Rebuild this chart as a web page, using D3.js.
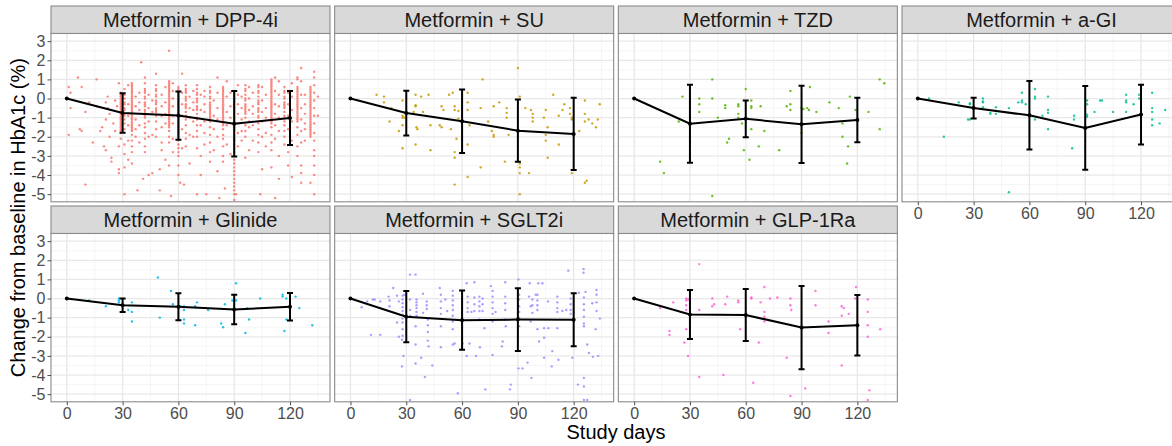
<!DOCTYPE html>
<html>
<head>
<meta charset="utf-8">
<script src="https://cdn.jsdelivr.net/npm/d3@7"></script>
<style>
  html, body { margin: 0; padding: 0; background: #fff; }
  svg { display: block; font-family: "Liberation Sans", Arial, Helvetica, sans-serif; }
</style>
</head>
<body>
<svg id="chart" width="1172" height="446"></svg>
<script>
// Treatment regimens, one facet each
const regimens = [
  "Metformin + DPP-4i", "Metformin + SU", "Metformin + TZD", "Metformin + a-GI",
  "Metformin + Glinide", "Metformin + SGLT2i", "Metformin + GLP-1Ra"
];
const visitDays = [0, 30, 60, 90, 120];
const dayTicks = [0, 30, 60, 90, 120];
const changeTicks = [-5, -4, -3, -2, -1, 0, 1, 2, 3];

// Mean change in HbA1c (%) at each visit, and its SD
const meanDPP4 = [0, -0.76, -0.89, -1.32, -1.02];
const sdDPP4   = [0, 1.03, 1.26, 1.71, 1.41];
const meanSU   = [0, -0.76, -1.19, -1.68, -1.85];
const sdSU     = [0, 1.17, 1.66, 1.63, 1.89];
const meanTZD  = [0, -1.32, -1.06, -1.35, -1.12];
const sdTZD    = [0, 2.04, 0.96, 2.02, 1.16];
const meanAGI  = [0, -0.50, -0.88, -1.54, -0.84];
const sdAGI    = [0, 0.54, 1.79, 2.19, 1.56];
const meanGlinide = [0, -0.35, -0.43, -0.57, -0.43];
const sdGlinide   = [0, 0.35, 0.70, 0.77, 0.72];
const meanSGLT2 = [0, -0.95, -1.13, -1.10, -1.11];
const sdSGLT2   = [0, 1.34, 1.55, 1.64, 1.38];
const meanGLP1  = [0, -0.83, -0.86, -1.52, -1.40];
const sdGLP1    = [0, 1.28, 1.36, 2.18, 1.58];

// Individual observations: [study day, change] or [study day, [changes...]]
const obsDPP4 = [
  [1,[0.6,-1.9]],[2,[0.3,-0.5]],[6,1.1],[7,-1.6],[8,[0.6,-1.7]],[10,[-0.7,-4.5]],[12,-0.2],[14,-2.3],
  [16,[1.0,-0.4]],[18,-1.7],[19,-1.5],[20,-2.5],[21,[-1.1,-2.7,-0.2]],[22,[-0.5,0.1]],[23,[-0.8,-2.0]],
  [24,[-3.1,-3.3]],[25,-1.3],[26,[-0.1,-1.7]],[27,-0.4],[28,[0.8,-2.5,-3.7,-3.9]],
  [29,[0.3,0.2,0.1,0,-0.1,-0.2,-0.3,-0.4,-0.5,-0.6,-0.7,-0.8,-0.9,-1.0,-1.1,-1.2,-1.3,-1.4,-1.5,-1.6,-1.7,-1.8,-2.1]],
  [31,[0.5,0.2,0,-0.2,-0.3,-0.5,-0.6,-0.8,-0.9,-1.1,-1.3,-1.6,-2.4,-2.9,-3.6,-5.0]],
  [33,[0.7,-0.3,-0.9,-1.4,-2.2,-3.2]],
  [35,[0.8,0.7,0.6,0.5,0.4,0.3,0.2,0.1,0,-0.1,-0.2,-0.3,-0.4,-0.5,-0.6,-0.7,-0.8,-0.9,-1.0,-1.1,-1.2,-1.3,-1.4,-1.5,-1.6,-1.7,-1.9,-2.2,-2.5,-2.8,-3.4]],
  [37,[0.1,-0.4,-1.1,-1.6,-2.0]],[38,-4.8],[39,[0.3,-0.2,-0.6,-1.4,-2.3]],[40,1.9],[41,-4.2],
  [42,[1.1,0.8,0.5,0.4,0.3,0.1,0,-0.2,-0.3,-0.4,-0.6,-0.7,-0.9,-1.0,-1.3,-1.5,-1.8,-2.1,-2.5,-2.8]],
  [44,[0.2,-0.5,-1.2,-2.0,-4.0]],[46,[-0.1,-0.7,-1.9,-3.9]],
  [48,[1.3,0.7,0.5,0.4,0.2,0.1,-0.1,-0.2,-0.3,-0.5,-0.6,-0.7,-0.9,-1.2,-1.6,-2.0]],
  [50,[-3.7,-4.8]],[51,[0.2,-0.4,-0.9,-1.5,-2.3,-2.7]],[53,[0.6,-0.2,-0.8,-1.3,-3.2]],
  [55,[2.5,0.9,0.8,0.7,0.6,0.5,0.4,0.3,0.2,0.1,0,-0.1,-0.2,-0.3,-0.4,-0.5,-0.6,-0.7,-0.8,-0.9,-1.0,-1.1,-1.2,-1.3,-1.4,-1.5,-1.7,-2.0,-2.3,-3.5]],
  [56,-5.1],[57,[0.8,0.4,0,-0.4,-0.9,-1.3,-2.1,-2.8]],
  [60,[0.6,0.5,0.4,0.3,0.2,0.1,0,-0.1,-0.2,-0.3,-0.4,-0.5,-0.6,-0.7,-0.8,-0.9,-1.0,-1.1,-1.2,-1.3,-1.4,-1.5,-1.6,-1.7,-1.8,-1.9,-2.0,-2.2,-2.4,-2.6,-2.8,-3.0,-3.5,-4.0]],
  [61,-4.4],[62,[1.3,0.3,-0.3,-0.9,-1.6,-2.6]],[63,-4.5],
  [64,[0.7,0.5,0.4,0.3,0.1,0,-0.1,-0.3,-0.4,-0.5,-0.7,-0.9,-1.1,-1.4,-1.8,-2.1,-2.5]],
  [66,[0.1,-0.5,-1.0,-1.9,-3.4]],[68,[0.4,-0.2,-0.6,-1.2,-2.0]],
  [70,[0.7,0.5,0.3,0.2,0,-0.1,-0.2,-0.4,-0.5,-0.6,-0.8,-1.0,-1.1,-1.4,-1.7,-2.0,-2.6,-5.0]],
  [72,[0.2,-0.6,-1.4,-3.0,-4.0]],[74,[0.4,0.1,-0.3,-0.7,-1.2,-1.8,-2.4]],[75,-5.0],
  [77,[0.6,0.4,0.3,0.1,0,-0.2,-0.3,-0.4,-0.5,-0.6,-0.7,-0.8,-0.9,-1.0,-1.1,-1.2,-1.5,-1.9,-2.3,-2.8,-3.3]],
  [79,[-0.1,-0.9,-1.6,-2.7]],[81,[1.1,0.3,-0.5,-1.1,-2.0,-3.8]],[82,-5.2],
  [84,[0.6,0.5,0.4,0.3,0.2,0.1,0,-0.1,-0.2,-0.3,-0.4,-0.5,-0.6,-0.7,-0.8,-0.9,-1.0,-1.1,-1.2,-1.3,-1.4,-1.6,-1.9,-2.1,-2.5,-3.0,-3.3]],
  [85,-4.7],[86,[0.9,0.1,-0.7,-1.4,-2.4]],[88,[0.3,-0.4,-1.0,-2.9]],
  [90,[0.4,0.3,0.2,0.1,0,-0.1,-0.2,-0.3,-0.4,-0.5,-0.6,-0.7,-0.8,-0.9,-1.0,-1.1,-1.2,-1.3,-1.4,-1.5,-1.6,-1.7,-1.9,-2.1,-2.2,-2.4,-2.6,-2.8,-3.0,-3.2,-3.4,-3.6,-3.8,-4.0,-4.2,-4.4,-4.6,-4.8,-5.0,-5.3]],
  [91,-5.0],[92,[0.7,0.2,-0.3,-0.8,-1.3,-1.8,-2.5]],[94,[0.1,-0.5,-1.1,-1.7,-2.2]],
  [96,[0.7,0.5,0.4,0.2,0,-0.1,-0.3,-0.4,-0.5,-0.6,-0.7,-0.8,-1.0,-1.4,-1.7,-2.0,-3.1]],
  [98,[0.6,0,-0.6,-1.2,-1.5,-2.7]],[100,[0.3,-0.4,-0.8,-1.4,-2.2]],
  [103,[0.7,0.6,0.4,0.3,0.1,-0.1,-0.2,-0.3,-0.5,-0.6,-0.7,-0.9,-1.0,-1.3,-1.6,-1.9,-2.3,-2.8]],
  [104,-5.0],[105,[0.6,-0.1,-0.7,-1.2,-2.0,-3.7]],[107,[0.2,-0.5,-1.0,-1.8,-2.5]],
  [110,[1.0,0.9,0.8,0.7,0.6,0.5,0.4,0.3,0.2,0.1,0,-0.1,-0.2,-0.3,-0.4,-0.5,-0.6,-0.7,-0.8,-0.9,-1.0,-1.1,-1.2,-1.3,-1.5,-1.9,-2.3,-2.7,-3.6]],
  [112,[1.1,0.4,-0.3,-0.8,-1.4,-2.1,-5.2]],[114,[0.9,0.2,-0.4,-1.0,-1.7,-3.0,-4.2]],
  [117,[0.6,0.4,0.3,0.1,0,-0.2,-0.3,-0.4,-0.5,-0.7,-0.9,-1.0,-1.2,-1.4,-1.7,-2.0,-2.4]],
  [119,[0.3,-0.3,-0.9,-1.6,-2.8,-3.5]],[121,[0.8,0.1,-0.6,-1.2,-2.2,-4.1]],
  [124,[1.1,1.0,0.6,0.5,0.4,0.3,0.2,0.1,0,-0.1,-0.2,-0.3,-0.4,-0.5,-0.6,-0.7,-0.8,-0.9,-1.0,-1.1,-1.2,-1.5,-1.9,-2.5,-3.0]],
  [126,[1.6,0.9,0.2,-0.5,-1.1,-1.7,-2.3,-3.5,-3.9,-4.4]],[128,[0.2,-0.3,-0.8,-1.3,-1.6,-2.2]],
  [131,[0.6,0.5,0.4,0.3,0.2,0.1,0,-0.1,-0.2,-0.3,-0.4,-0.5,-0.6,-0.7,-0.8,-0.9,-1.0,-1.1,-1.2,-1.3,-1.4,-1.5,-1.6,-1.7,-1.8,-1.9,-2.0,-4.4]],
  [133,[1.4,1.1,0.7,0.3,-0.1,-0.5,-0.9,-1.3,-1.8,-2.2,-2.7,-3.0,-3.5,-4.0,-5.0]],
  [135,[0.1,-0.9]]
];
const obsSU = [
  [14,0.2],[18,0.1],[18,-0.2],[22,-0.5],[21,-1.2],[26,-1.7],[28,-0.1],[28,-0.9],[28,-1.0],[29,-1.0],
  [28,-1.4],[28,-2.6],[34,-0.7],[35,-0.35],[35,-0.4],[35,0.2],[38,0.1],[42,0.2],[35.5,-1.5],[36,-1.6],
  [35,-2.4],[39,-0.7],[43,-1.4],[43,-2.7],[48,-1.4],[49,-0.4],[49,-1.5],[50,-0.6],[53,0.2],[55,0.3],
  [54,-1.6],[56,-0.4],[56,-0.6],[57,-2.1],[56,-2.8],[56,-3.1],[56,-4.5],[58,-1.05],[58,-0.65],[63,0.3],
  [63,-0.2],[63,-0.6],[63,-2.4],[64,-1.4],[63,-4.1],[70,-0.5],[71,1.0],[70,-3.6],[74,-1.2],[77,-0.4],
  [76,-1.7],[77,-1.9],[77,-2.0],[80,-0.2],[83,-3.3],[84,-0.5],[84,-0.75],[84,-1.0],[85,-1.9],[90,1.6],
  [91,0.1],[91,-3.4],[91,-3.6],[91,-3.9],[91,-5.0],[94,-0.5],[96,-3.9],[97,-0.6],[98,-0.8],[98,-1.0],
  [98,-1.2],[104,-1.0],[105,-0.6],[105,-1.9],[105,-2.2],[106,-1.5],[106,-3.1],[109,0.2],[112,-0.9],
  [112,-2.4],[114,-0.6],[115,-0.3],[118,-0.8],[118,-0.5],[119,-1.0],[119,-1.1],[119,-3.9],[126,-0.1],
  [126,-0.8],[126,-1.2],[128,-1.1],[130,-1.3],[132,-1.5],[133,-1.1],[134,-0.3],[123,-1.7],[126,-4.4],[127,-4.3]
];
const obsTZD = [
  [26,0.1],[24,-1.2],[14,-3.3],[16,-3.9],[35,0],[35,-0.3],[35,-0.7],[42,1.0],[42,0],[42,-5.1],[45,-1.0],
  [49,-0.35],[49,-0.5],[51,-2.1],[50,-2.3],[56,-0.3],[56,-0.4],[56,-0.8],[56,-1.0],[58,-1.3],[60,0.5],
  [59,-2.7],[62,-3.2],[63,-0.1],[63,-0.4],[63,-0.5],[63,-1.6],[68,-0.4],[67,-2.5],[70,-1.7],[78,-2.7],
  [82,-0.4],[84,0.4],[84,-0.3],[84,-0.6],[90,-0.5],[91,-0.55],[90,-1.8],[93,-0.5],[94.5,0.6],[94,-0.6],
  [98,-0.7],[105,-0.2],[110,-0.5],[112,-1.3],[112,-2.0],[116,0.1],[115,-2.5],[114.5,-3.4],[119,-0.6],
  [126,-0.7],[132,1.0],[134.5,0.8],[132,-1.6]
];
const obsAGI = [
  [6,0],[14,-2.0],[22,-0.2],[28,-0.25],[28,-0.3],[27,-1.1],[28,-1.1],[35,0],[35,-0.15],[35,-0.2],
  [35,-0.45],[39,-0.75],[39,-0.8],[42,-0.45],[42,-0.8],[49,-0.5],[49,-4.9],[54,-0.2],[56,0.3],[56,-0.1],
  [56,-0.2],[58,-0.3],[63,0.5],[63,0.1],[63,0],[63,-1.1],[67,-0.9],[70,0.1],[70,-0.6],[70,-0.75],
  [70,-1.6],[83,-2.6],[84,-0.9],[84,-1.1],[91,-0.1],[91,-0.3],[91,-0.85],[91,-0.95],[95,-0.7],[98,-0.1],
  [99,-0.1],[105,-0.7],[112,0.2],[112,-0.1],[112,-0.2],[112,-0.7],[116,-0.3],[119,0.2],[119,0],[126,0.3],
  [126,-0.5],[126,-0.7],[126,-1.1],[126,-1.4],[130,-1.3],[133,-0.6]
];
const obsGlinide = [
  [12,-0.1],[21,-0.4],[28,0],[28,-0.1],[28,-0.2],[33,-0.6],[35,-0.2],[35,-0.7],[35,-1.2],[49,1.1],
  [50,-1.0],[56,0.4],[57,-0.3],[61,-0.4],[63,-0.4],[63,-0.6],[63,-1.1],[63,-1.3],[69,-0.4],[70,-0.2],
  [69,-1.4],[76,-0.6],[83,-1.3],[84,-1.5],[85,-0.3],[89,-0.1],[91,-0.1],[91,0.8],[97,-0.5],[98,-1.1],
  [96,-1.8],[104,0],[116,0.2],[116,0.1],[118,0],[117,-1.7],[118,-1.1],[123,0.1],[125,-0.5],[132,-1.4]
];
const obsSGLT2 = [
  [6,-0.45],[9,-0.15],[11,-1.9],[12,-0.05],[13,-0.05],[16,[-1.9,-0.15]],[20.5,0.1],[21,[-0.1,-0.4]],
  [23,0.55],[24,-0.75],[25,[-1.25,0.15]],[26,[-0.15,-2.0]],[27.7,[-2.15,-3.55]],
  [28,[0.15,-0.05,-0.25,-0.45,-0.65,-0.85,-1.05,-1.25,-1.6,-1.95]],[28.5,-3.0],[29,0.2],
  [32,[1.25,-0.05,-0.6,-0.9,-5.3]],[35,[1.25,-1.45,-2.4,-3.4]],[35.5,[-0.05,-0.2,-0.35,-0.5,-0.7,-0.9]],
  [38,-3.1],[39,[0.25,-0.75]],[40,-4.1],[41,[-0.15,-0.35,-0.55]],[41.6,[-1.1,-1.4,-1.75,-2.2]],
  [42,-2.5],[44,-3.5],[48,0.55],[48.6,[0.2,-0.15,-0.5,-0.8,-1.45,-2.55]],[51,-0.05],[52,-0.65],
  [55,[0.4,0.15,-0.1,-0.35,-0.6,-0.9,-1.2,-1.6,-2.4]],[56,-2.35],[57.7,-4.95],[60.3,-2.35],
  [62.5,[0.8,-3.0]],[63,[0.1,-0.2,-0.5,-0.7]],[64,-2.35],[65,-0.7],
  [66.6,[0.85,0.05,-0.3,-0.65]],[69.3,[0.1,-0.15,-0.4,-0.65,-1.1]],[71,[0,-0.3,-0.65]],[72,-1.55],
  [69.6,-2.55],[67.5,-3.0],[72.5,-4.75],[75.5,0.65],[76.4,[0.4,0.1,-0.2,-0.5,-0.8,-1.2,-2.95]],
  [78,-0.7],[81.4,-2.5],[81.8,-2.25],[83.2,[0.85,0.1,-0.25,-0.6,-1.1]],[83.5,-1.45],[85.7,-4.75],
  [86.2,-4.5],[90.3,[1.0,-3.65]],[90.7,[0.2,-0.05,-0.4,-0.7,-1.0,-1.45]],[92.5,-3.65],[95.2,-3.35],
  [96.4,0.8],[96.9,[-0.4,-1.2]],[97.3,-4.15],[96,0.1],[97.8,[-0.05,-0.35,-0.75]],[99.6,0.2],
  [100.5,[0.2,-0.1,-0.35,-0.6,-1.6]],[101,0.8],[101.4,-2.25],[103.2,0.8],[104.1,[-1.55,-2.05,-3.1]],
  [106.2,-0.15],[106.4,-1.55],[108.5,-2.75],[108.2,-3.55],[111.2,[0.1,-0.2,-0.5,-0.7,-1.55]],
  [111.8,-3.2],[113.9,-0.65],[116,-0.6],[117.1,1.45],[118.4,[0,-0.3,-0.6,-0.8]],[119.3,-3.1],
  [122.3,-4.5],[122.8,0.3],[125.3,[1.55,1.35]],[125.5,[0.05,-0.3,-0.6,-0.95,-1.3,-1.45,-4.15,-4.6,-5.3]],
  [126.4,0.35],[127.3,[-2.4,-5.3]],[128.2,-2.85],[130,-0.25],[130.3,-3.05],
  [132.3,[0.45,0.2,-0.2,-0.65]],[131.8,-1.6],[134.1,-1.05],[133.2,-3.0]
];
const obsGLP1 = [
  [14,-0.5],[19,-1.7],[19,-1.9],[21,-0.2],[27,-2.3],[28,0],[28,-0.1],[29,-0.05],[28,-0.35],[28,-0.6],
  [28,-1.6],[29,-3.0],[35,1.8],[35,-0.6],[35,-4.1],[42,0],[42,-0.4],[43,-0.3],[48,-4.0],[49,-0.3],
  [50,0.1],[56,-0.1],[56,-0.2],[57,-1.6],[63,0.05],[63,0],[64,-4.4],[67,-2.3],[68,-0.2],[70,0.6],
  [70,-0.7],[70,-0.95],[70,-1.2],[73,0],[77,0.05],[82,-3.1],[84,0],[84,-0.35],[84.5,-0.6],[84,-5.1],
  [92,-4.7],[97.5,0.4],[97.5,-0.35],[104.5,-1.2],[104.5,-1.8],[111.6,-0.4],[111.6,-0.9],[111.6,-3.5],
  [112.7,-0.5],[115.4,-0.8],[119.3,0.6],[118.8,0],[125.6,[-0.05,-0.7,-1.4,-2.0,-5.3]],[126.5,-4.8],[132.3,-1.6]
];

// Facet colours (ggplot hue palette)
const palette = ["#F8766D", "#C49A00", "#53B400", "#00C094", "#00B6EB", "#A58AFF", "#FB61D7"];

const means = [meanDPP4, meanSU, meanTZD, meanAGI, meanGlinide, meanSGLT2, meanGLP1];
const sds   = [sdDPP4, sdSU, sdTZD, sdAGI, sdGlinide, sdSGLT2, sdGLP1];
const observations = [obsDPP4, obsSU, obsTZD, obsAGI, obsGlinide, obsSGLT2, obsGLP1];

const flatten = rows => rows.flatMap(([d, v]) => Array.isArray(v) ? v.map(val => [d, val]) : [[d, v]]);

// Layout
const panelW = 279, panelH = 168.3, stripH = 27.5;
const colX = c => 51 + c * 283.67;
const rowY = r => 6 + r * 200;

const x = d3.scaleLinear().domain([-8.5, 141.5]).range([0, panelW]);
const y = d3.scaleLinear().domain([-5.4, 3.4]).range([panelH, 0]);

const svg = d3.select("#chart");
svg.append("rect").attr("width", 1172).attr("height", 446).attr("fill", "#fff");

const majorX = dayTicks, minorX = [15, 45, 75, 105, 135];
const majorY = changeTicks, minorY = [-4.5, -3.5, -2.5, -1.5, -0.5, 0.5, 1.5, 2.5];

regimens.forEach((name, i) => {
  const c = i % 4, r = Math.floor(i / 4);
  const g = svg.append("g").attr("transform", `translate(${colX(c)},${rowY(r) + stripH})`);

  // strip
  g.append("rect")
    .attr("x", 0).attr("y", -stripH).attr("width", panelW).attr("height", stripH)
    .attr("fill", "#d9d9d9").attr("stroke", "#8a8a8a").attr("stroke-width", 1.1);
  g.append("text")
    .attr("x", panelW / 2).attr("y", -6.3)
    .attr("text-anchor", "middle").attr("font-size", 20).attr("fill", "#1a1a1a")
    .text(name);

  // panel background and grid
  g.append("rect").attr("width", panelW).attr("height", panelH).attr("fill", "#fff");
  const grid = g.append("g");
  grid.selectAll(".mnx").data(minorX).join("line")
    .attr("x1", d => x(d)).attr("x2", d => x(d)).attr("y1", 0).attr("y2", panelH)
    .attr("stroke", "#f2f2f2").attr("stroke-width", 0.8);
  grid.selectAll(".mny").data(minorY).join("line")
    .attr("y1", d => y(d)).attr("y2", d => y(d)).attr("x1", 0).attr("x2", panelW)
    .attr("stroke", "#f2f2f2").attr("stroke-width", 0.8);
  grid.selectAll(".mjx").data(majorX).join("line")
    .attr("x1", d => x(d)).attr("x2", d => x(d)).attr("y1", 0).attr("y2", panelH)
    .attr("stroke", "#e8e8e8").attr("stroke-width", 1.3);
  grid.selectAll(".mjy").data(majorY).join("line")
    .attr("y1", d => y(d)).attr("y2", d => y(d)).attr("x1", 0).attr("x2", panelW)
    .attr("stroke", "#e8e8e8").attr("stroke-width", 1.3);

  // clip to panel
  const clipId = "clip" + i;
  g.append("clipPath").attr("id", clipId)
    .append("rect").attr("width", panelW).attr("height", panelH);
  const plot = g.append("g").attr("clip-path", `url(#${clipId})`);

  // jittered individual observations
  plot.append("g").selectAll("circle").data(flatten(observations[i])).join("circle")
    .attr("cx", d => x(d[0])).attr("cy", d => y(d[1])).attr("r", 1.2)
    .attr("fill", palette[i]).attr("fill-opacity", 0.85);

  // mean trajectory with SD error bars
  const summary = visitDays.map((d, k) => ({ day: d, mean: means[i][k], sd: sds[i][k] }));
  plot.append("path").datum(summary)
    .attr("d", d3.line().x(d => x(d.day)).y(d => y(d.mean)))
    .attr("fill", "none").attr("stroke", "#000").attr("stroke-width", 2);
  const bars = plot.append("g").selectAll("g").data(summary.filter(d => d.sd > 0)).join("g")
    .attr("stroke", "#000").attr("stroke-width", 2);
  bars.append("line")
    .attr("x1", d => x(d.day)).attr("x2", d => x(d.day))
    .attr("y1", d => y(d.mean + d.sd)).attr("y2", d => y(d.mean - d.sd));
  bars.append("line")
    .attr("x1", d => x(d.day) - 3).attr("x2", d => x(d.day) + 3)
    .attr("y1", d => y(d.mean + d.sd)).attr("y2", d => y(d.mean + d.sd));
  bars.append("line")
    .attr("x1", d => x(d.day) - 3).attr("x2", d => x(d.day) + 3)
    .attr("y1", d => y(d.mean - d.sd)).attr("y2", d => y(d.mean - d.sd));
  plot.append("g").selectAll("circle").data(summary).join("circle")
    .attr("cx", d => x(d.day)).attr("cy", d => y(d.mean)).attr("r", 2)
    .attr("fill", "#000");

  // panel border
  g.append("rect").attr("width", panelW).attr("height", panelH)
    .attr("fill", "none").attr("stroke", "#8a8a8a").attr("stroke-width", 1.1);

  // axes
  const styleAxis = sel => {
    sel.select(".domain").remove();
    sel.selectAll(".tick line").attr("stroke", "#4d4d4d").attr("stroke-width", 1);
    sel.selectAll(".tick text").attr("fill", "#4d4d4d").attr("font-size", 16)
      .attr("font-family", '"Liberation Sans", Arial, Helvetica, sans-serif');
  };
  if (c === 0) {
    g.append("g")
      .call(d3.axisLeft(y).tickValues(changeTicks).tickSize(3.5).tickPadding(2).tickFormat(d => String(d)))
      .call(styleAxis);
  }
  if ((r === 1 && c < 3) || (r === 0 && c === 3)) {
    g.append("g").attr("transform", `translate(0,${panelH})`)
      .call(d3.axisBottom(x).tickValues(dayTicks).tickSize(3.5).tickPadding(2).tickFormat(d => String(d)))
      .call(styleAxis);
  }
});

// axis titles
svg.append("text")
  .attr("x", (colX(0) + colX(3) + panelW) / 2).attr("y", 439)
  .attr("text-anchor", "middle").attr("font-size", 20).attr("fill", "#000")
  .text("Study days");
svg.append("text")
  .attr("transform", `translate(24.5,${(rowY(0) + stripH + rowY(1) + stripH + panelH) / 2}) rotate(-90)`)
  .attr("text-anchor", "middle").attr("font-size", 20).attr("fill", "#000")
  .text("Change from baseline in HbA1c (%)");
</script>
</body>
</html>
